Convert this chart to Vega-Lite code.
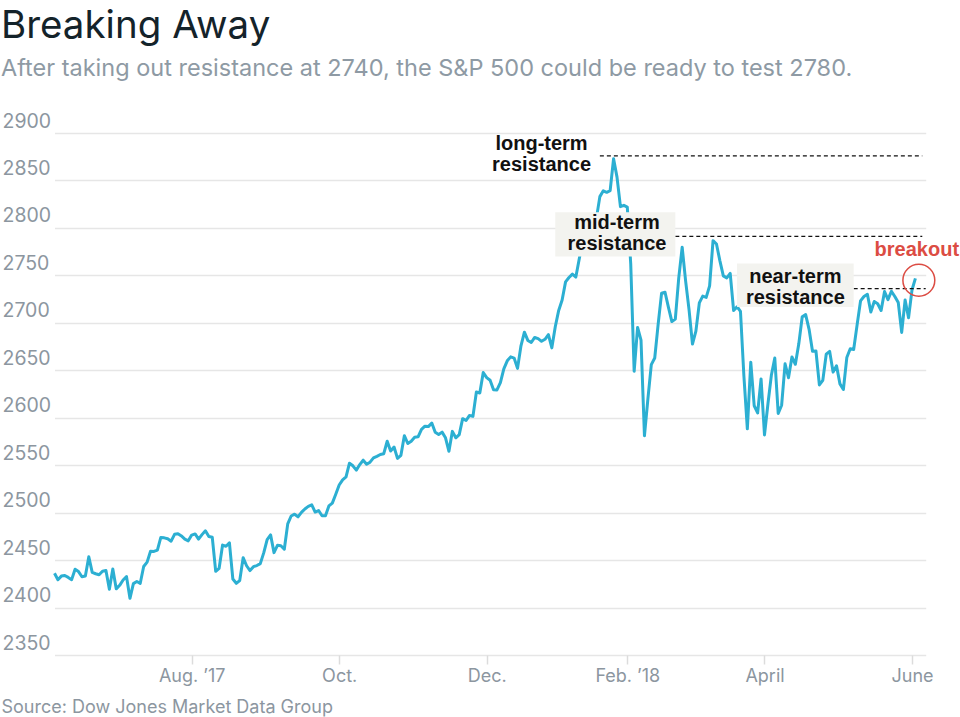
{
  "$schema": "https://vega.github.io/schema/vega-lite/v6.json",
  "width": 916,
  "height": 522,
  "autosize": {"type": "none"},
  "padding": {"left": 0, "top": 133, "right": 44, "bottom": 62},
  "background": "white",
  "config": {"view": {"stroke": null}},
  "title": {
    "text": "Breaking Away",
    "subtitle": "After taking out resistance at 2740, the S&P 500 could be ready to test 2780.",
    "anchor": "start",
    "frame": "group",
    "dx": 1,
    "offset": 30,
    "font": "Inter",
    "fontSize": 38.5,
    "fontWeight": "normal",
    "color": "#14232a",
    "subtitleFont": "Inter",
    "subtitleFontSize": 23.5,
    "subtitleColor": "#8e9aa4",
    "subtitlePadding": 10
  },
  "datasets": {
    "sp": [
      {"date":"2017-06-05","close":2436.10},{"date":"2017-06-06","close":2429.33},{"date":"2017-06-07","close":2433.14},{"date":"2017-06-08","close":2433.79},{"date":"2017-06-09","close":2431.77},
      {"date":"2017-06-12","close":2429.39},{"date":"2017-06-13","close":2440.35},{"date":"2017-06-14","close":2437.92},{"date":"2017-06-15","close":2432.46},{"date":"2017-06-16","close":2433.15},
      {"date":"2017-06-19","close":2453.46},{"date":"2017-06-20","close":2437.03},{"date":"2017-06-21","close":2435.61},{"date":"2017-06-22","close":2434.50},{"date":"2017-06-23","close":2438.30},
      {"date":"2017-06-26","close":2439.07},{"date":"2017-06-27","close":2419.38},{"date":"2017-06-28","close":2440.69},{"date":"2017-06-29","close":2419.70},{"date":"2017-06-30","close":2423.41},
      {"date":"2017-07-03","close":2429.01},{"date":"2017-07-05","close":2432.54},{"date":"2017-07-06","close":2409.75},{"date":"2017-07-07","close":2425.18},
      {"date":"2017-07-10","close":2427.43},{"date":"2017-07-11","close":2425.53},{"date":"2017-07-12","close":2443.25},{"date":"2017-07-13","close":2447.83},{"date":"2017-07-14","close":2459.27},
      {"date":"2017-07-17","close":2459.14},{"date":"2017-07-18","close":2460.61},{"date":"2017-07-19","close":2473.83},{"date":"2017-07-20","close":2473.45},{"date":"2017-07-21","close":2472.54},
      {"date":"2017-07-24","close":2469.91},{"date":"2017-07-25","close":2477.13},{"date":"2017-07-26","close":2477.83},{"date":"2017-07-27","close":2475.42},{"date":"2017-07-28","close":2472.10},
      {"date":"2017-07-31","close":2470.30},{"date":"2017-08-01","close":2476.35},{"date":"2017-08-02","close":2477.57},{"date":"2017-08-03","close":2472.16},{"date":"2017-08-04","close":2476.83},
      {"date":"2017-08-07","close":2480.91},{"date":"2017-08-08","close":2474.92},{"date":"2017-08-09","close":2474.02},{"date":"2017-08-10","close":2438.21},{"date":"2017-08-11","close":2441.32},
      {"date":"2017-08-14","close":2465.84},{"date":"2017-08-15","close":2464.61},{"date":"2017-08-16","close":2468.11},{"date":"2017-08-17","close":2430.01},{"date":"2017-08-18","close":2425.55},
      {"date":"2017-08-21","close":2428.37},{"date":"2017-08-22","close":2452.51},{"date":"2017-08-23","close":2444.04},{"date":"2017-08-24","close":2438.97},{"date":"2017-08-25","close":2443.05},
      {"date":"2017-08-28","close":2444.24},{"date":"2017-08-29","close":2446.30},{"date":"2017-08-30","close":2457.59},{"date":"2017-08-31","close":2471.65},{"date":"2017-09-01","close":2476.55},
      {"date":"2017-09-05","close":2457.85},{"date":"2017-09-06","close":2465.54},{"date":"2017-09-07","close":2465.10},{"date":"2017-09-08","close":2461.43},
      {"date":"2017-09-11","close":2488.11},{"date":"2017-09-12","close":2496.48},{"date":"2017-09-13","close":2498.37},{"date":"2017-09-14","close":2495.62},{"date":"2017-09-15","close":2500.23},
      {"date":"2017-09-18","close":2503.87},{"date":"2017-09-19","close":2506.65},{"date":"2017-09-20","close":2508.24},{"date":"2017-09-21","close":2500.60},{"date":"2017-09-22","close":2502.22},
      {"date":"2017-09-25","close":2496.66},{"date":"2017-09-26","close":2496.84},{"date":"2017-09-27","close":2507.04},{"date":"2017-09-28","close":2510.06},{"date":"2017-09-29","close":2519.36},
      {"date":"2017-10-02","close":2529.12},{"date":"2017-10-03","close":2534.58},{"date":"2017-10-04","close":2537.74},{"date":"2017-10-05","close":2552.07},{"date":"2017-10-06","close":2549.33},
      {"date":"2017-10-09","close":2544.73},{"date":"2017-10-10","close":2550.64},{"date":"2017-10-11","close":2555.24},{"date":"2017-10-12","close":2550.93},{"date":"2017-10-13","close":2553.17},
      {"date":"2017-10-16","close":2557.64},{"date":"2017-10-17","close":2559.36},{"date":"2017-10-18","close":2561.26},{"date":"2017-10-19","close":2562.10},{"date":"2017-10-20","close":2575.21},
      {"date":"2017-10-23","close":2564.98},{"date":"2017-10-24","close":2569.13},{"date":"2017-10-25","close":2557.15},{"date":"2017-10-26","close":2560.40},{"date":"2017-10-27","close":2581.07},
      {"date":"2017-10-30","close":2572.83},{"date":"2017-10-31","close":2575.26},{"date":"2017-11-01","close":2579.36},{"date":"2017-11-02","close":2579.85},{"date":"2017-11-03","close":2587.84},
      {"date":"2017-11-06","close":2591.13},{"date":"2017-11-07","close":2590.64},{"date":"2017-11-08","close":2594.38},{"date":"2017-11-09","close":2584.62},{"date":"2017-11-10","close":2582.30},
      {"date":"2017-11-13","close":2584.84},{"date":"2017-11-14","close":2578.87},{"date":"2017-11-15","close":2564.62},{"date":"2017-11-16","close":2585.64},{"date":"2017-11-17","close":2578.85},
      {"date":"2017-11-20","close":2582.14},{"date":"2017-11-21","close":2599.03},{"date":"2017-11-22","close":2597.08},{"date":"2017-11-24","close":2602.42},
      {"date":"2017-11-27","close":2601.42},{"date":"2017-11-28","close":2627.04},{"date":"2017-11-29","close":2626.07},{"date":"2017-11-30","close":2647.58},{"date":"2017-12-01","close":2642.22},
      {"date":"2017-12-04","close":2639.44},{"date":"2017-12-05","close":2629.57},{"date":"2017-12-06","close":2629.27},{"date":"2017-12-07","close":2636.98},{"date":"2017-12-08","close":2651.50},
      {"date":"2017-12-11","close":2659.99},{"date":"2017-12-12","close":2664.11},{"date":"2017-12-13","close":2662.85},{"date":"2017-12-14","close":2652.01},{"date":"2017-12-15","close":2675.81},
      {"date":"2017-12-18","close":2690.16},{"date":"2017-12-19","close":2681.47},{"date":"2017-12-20","close":2679.25},{"date":"2017-12-21","close":2684.57},{"date":"2017-12-22","close":2683.34},
      {"date":"2017-12-26","close":2680.50},{"date":"2017-12-27","close":2682.62},{"date":"2017-12-28","close":2687.54},{"date":"2017-12-29","close":2673.61},
      {"date":"2018-01-02","close":2695.81},{"date":"2018-01-03","close":2713.06},{"date":"2018-01-04","close":2723.99},{"date":"2018-01-05","close":2743.15},
      {"date":"2018-01-08","close":2747.71},{"date":"2018-01-09","close":2751.29},{"date":"2018-01-10","close":2748.23},{"date":"2018-01-11","close":2767.56},{"date":"2018-01-12","close":2786.24},
      {"date":"2018-01-16","close":2776.42},{"date":"2018-01-17","close":2802.56},{"date":"2018-01-18","close":2798.03},{"date":"2018-01-19","close":2810.30},
      {"date":"2018-01-22","close":2832.97},{"date":"2018-01-23","close":2839.13},{"date":"2018-01-24","close":2837.54},{"date":"2018-01-25","close":2839.25},{"date":"2018-01-26","close":2872.87},
      {"date":"2018-01-29","close":2853.53},{"date":"2018-01-30","close":2822.43},{"date":"2018-01-31","close":2823.81},{"date":"2018-02-01","close":2821.98},{"date":"2018-02-02","close":2762.13},
      {"date":"2018-02-05","close":2648.94},{"date":"2018-02-06","close":2695.14},{"date":"2018-02-07","close":2681.66},{"date":"2018-02-08","close":2581.00},{"date":"2018-02-09","close":2619.55},
      {"date":"2018-02-12","close":2656.00},{"date":"2018-02-13","close":2662.94},{"date":"2018-02-14","close":2698.63},{"date":"2018-02-15","close":2731.20},{"date":"2018-02-16","close":2732.22},
      {"date":"2018-02-20","close":2716.26},{"date":"2018-02-21","close":2701.33},{"date":"2018-02-22","close":2703.96},{"date":"2018-02-23","close":2747.30},
      {"date":"2018-02-26","close":2779.60},{"date":"2018-02-27","close":2744.28},{"date":"2018-02-28","close":2713.83},{"date":"2018-03-01","close":2677.67},{"date":"2018-03-02","close":2691.25},
      {"date":"2018-03-05","close":2720.94},{"date":"2018-03-06","close":2728.12},{"date":"2018-03-07","close":2726.80},{"date":"2018-03-08","close":2738.97},{"date":"2018-03-09","close":2786.57},
      {"date":"2018-03-12","close":2783.02},{"date":"2018-03-13","close":2765.31},{"date":"2018-03-14","close":2749.48},{"date":"2018-03-15","close":2747.33},{"date":"2018-03-16","close":2752.01},
      {"date":"2018-03-19","close":2712.92},{"date":"2018-03-20","close":2716.94},{"date":"2018-03-21","close":2711.93},{"date":"2018-03-22","close":2643.69},{"date":"2018-03-23","close":2588.26},
      {"date":"2018-03-26","close":2658.55},{"date":"2018-03-27","close":2612.62},{"date":"2018-03-28","close":2605.00},{"date":"2018-03-29","close":2640.87},
      {"date":"2018-04-02","close":2581.88},{"date":"2018-04-03","close":2614.45},{"date":"2018-04-04","close":2644.69},{"date":"2018-04-05","close":2662.84},{"date":"2018-04-06","close":2604.47},
      {"date":"2018-04-09","close":2613.16},{"date":"2018-04-10","close":2656.87},{"date":"2018-04-11","close":2642.19},{"date":"2018-04-12","close":2663.99},{"date":"2018-04-13","close":2656.30},
      {"date":"2018-04-16","close":2677.84},{"date":"2018-04-17","close":2706.39},{"date":"2018-04-18","close":2708.64},{"date":"2018-04-19","close":2693.13},{"date":"2018-04-20","close":2670.14},
      {"date":"2018-04-23","close":2670.29},{"date":"2018-04-24","close":2634.56},{"date":"2018-04-25","close":2639.40},{"date":"2018-04-26","close":2666.94},{"date":"2018-04-27","close":2669.91},
      {"date":"2018-04-30","close":2648.05},{"date":"2018-05-01","close":2654.80},{"date":"2018-05-02","close":2635.67},{"date":"2018-05-03","close":2629.73},{"date":"2018-05-04","close":2663.42},
      {"date":"2018-05-07","close":2672.63},{"date":"2018-05-08","close":2671.92},{"date":"2018-05-09","close":2697.79},{"date":"2018-05-10","close":2723.07},{"date":"2018-05-11","close":2727.72},
      {"date":"2018-05-14","close":2730.13},{"date":"2018-05-15","close":2711.45},{"date":"2018-05-16","close":2722.46},{"date":"2018-05-17","close":2720.13},{"date":"2018-05-18","close":2712.97},
      {"date":"2018-05-21","close":2733.01},{"date":"2018-05-22","close":2724.44},{"date":"2018-05-23","close":2733.29},{"date":"2018-05-24","close":2727.76},{"date":"2018-05-25","close":2721.33},
      {"date":"2018-05-29","close":2689.86},{"date":"2018-05-30","close":2724.01},{"date":"2018-05-31","close":2705.27},{"date":"2018-06-01","close":2734.62},{"date":"2018-06-04","close":2746.87}
    ],
    "levels": [
      {"name":"long-term","start":"2018-01-22","end":"2018-06-06","level":2876},
      {"name":"mid-term","start":"2018-02-22","end":"2018-06-06","level":2791},
      {"name":"near-term","start":"2018-05-08","end":"2018-06-07","level":2736}
    ],
    "boxes": [
      {"name":"mid-term","start":"2018-01-02","end":"2018-02-22","top":2816.5,"bottom":2769.9},
      {"name":"near-term","start":"2018-03-20","end":"2018-05-08","top":2762.5,"bottom":2716.7}
    ],
    "labels": [
      {"date":"2017-12-26","value":2882.0,"label":"long-term"},
      {"date":"2017-12-26","value":2859.8,"label":"resistance"},
      {"date":"2018-01-29","value":2798.6,"label":"mid-term"},
      {"date":"2018-01-29","value":2776.4,"label":"resistance"},
      {"date":"2018-04-13","value":2742.0,"label":"near-term"},
      {"date":"2018-04-13","value":2719.8,"label":"resistance"}
    ],
    "breakout": [
      {"date":"2018-06-05","value":2744.8,"textValue":2769.9,"label":"breakout"}
    ]
  },
  "layer": [
    {
      "data": {"name": "sp"},
      "mark": {"type": "line", "color": "#2cafd2", "strokeWidth": 3, "strokeJoin": "round"},
      "encoding": {
        "x": {
          "field": "date",
          "type": "ordinal",
          "scale": {"type": "point", "range": [54.5, 925.7], "padding": 0},
          "axis": {
            "values": ["2017-08-01","2017-10-02","2017-12-01","2018-02-01","2018-04-02","2018-06-01"],
            "labelExpr": "datum.value == '2017-08-01' ? 'Aug. \u201917' : datum.value == '2017-10-02' ? 'Oct.' : datum.value == '2017-12-01' ? 'Dec.' : datum.value == '2018-02-01' ? 'Feb. \u201918' : datum.value == '2018-04-02' ? 'April' : 'June'",
            "labelAngle": 0,
            "labelFont": "Inter",
            "labelFontSize": 18,
            "labelColor": "#8c96a0",
            "labelPadding": 3,
            "labelOverlap": false,
            "domain": false,
            "grid": false,
            "ticks": true,
            "tickSize": 9,
            "tickColor": "#dcdcdc",
            "tickWidth": 1.5,
            "title": "Source: Dow Jones Market Data Group",
            "titleFont": "Inter",
            "titleFontSize": 18,
            "titleFontWeight": "normal",
            "titleColor": "#8c96a0",
            "titleAnchor": "start",
            "titleAlign": "left",
            "titleBaseline": "alphabetic",
            "titleX": 1,
            "titleY": 57
          }
        },
        "y": {
          "field": "close",
          "type": "quantitative",
          "scale": {"domain": [2350, 2900], "nice": false, "zero": false},
          "axis": {
            "values": [2350,2400,2450,2500,2550,2600,2650,2700,2750,2800,2850,2900],
            "format": "d",
            "title": null,
            "grid": true,
            "gridColor": "#e6e6e6",
            "gridWidth": 1.5,
            "domain": false,
            "ticks": false,
            "labelAlign": "left",
            "labelBaseline": "alphabetic",
            "labelPadding": -2,
            "labelOffset": -6,
            "labelFont": "Inter",
            "labelFontSize": 19.5,
            "labelColor": "#8c96a0"
          }
        }
      }
    },
    {
      "data": {"name": "levels"},
      "mark": {"type": "rule", "color": "#111111", "strokeWidth": 1.3, "strokeDash": [4, 3]},
      "encoding": {
        "x": {"field": "start", "type": "ordinal"},
        "x2": {"field": "end"},
        "y": {"field": "level", "type": "quantitative"}
      }
    },
    {
      "data": {"name": "boxes"},
      "mark": {"type": "rect", "color": "#f3f3ef"},
      "encoding": {
        "x": {"field": "start", "type": "ordinal"},
        "x2": {"field": "end"},
        "y": {"field": "top", "type": "quantitative"},
        "y2": {"field": "bottom"}
      }
    },
    {
      "data": {"name": "labels"},
      "mark": {"type": "text", "font": "Liberation Sans", "fontWeight": "bold", "fontSize": 20, "align": "center", "baseline": "alphabetic", "color": "#111111"},
      "encoding": {
        "x": {"field": "date", "type": "ordinal"},
        "y": {"field": "value", "type": "quantitative"},
        "text": {"field": "label"}
      }
    },
    {
      "data": {"name": "breakout"},
      "mark": {"type": "point", "shape": "circle", "size": 1018, "filled": false, "color": "#dc4c43", "strokeWidth": 1.5, "opacity": 1},
      "encoding": {
        "x": {"field": "date", "type": "ordinal"},
        "y": {"field": "value", "type": "quantitative"}
      }
    },
    {
      "data": {"name": "breakout"},
      "mark": {"type": "text", "font": "Liberation Sans", "fontWeight": "bold", "fontSize": 20, "align": "center", "baseline": "alphabetic", "color": "#dc4c43", "dx": -2},
      "encoding": {
        "x": {"field": "date", "type": "ordinal"},
        "y": {"field": "textValue", "type": "quantitative"},
        "text": {"field": "label"}
      }
    }
  ]
}
